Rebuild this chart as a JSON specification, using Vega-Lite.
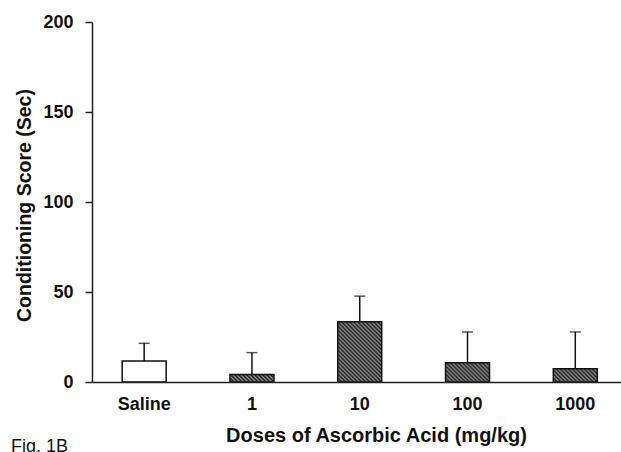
{
  "$schema": "https://vega.github.io/schema/vega-lite/v6.json",
  "width": 529,
  "height": 360,
  "autosize": {"type": "none"},
  "padding": {"left": 92, "top": 22, "right": 0, "bottom": 70},
  "background": "white",
  "title": {"text": "Fig. 1B", "orient": "bottom", "anchor": "start", "frame": "bounds", "font": "Liberation Sans", "fontSize": 18, "fontWeight": "normal", "color": "#111", "offset": -7, "dx": -4},
  "config": {"view": {"stroke": null}},
  "data": {"values": [
    {"dose": "Saline", "mean": 11.7, "upper": 21.5},
    {"dose": "1", "mean": 4.1, "upper": 16.3},
    {"dose": "10", "mean": 33.5, "upper": 47.7},
    {"dose": "100", "mean": 10.7, "upper": 27.8},
    {"dose": "1000", "mean": 7.4, "upper": 27.8}
  ]},
  "encoding": {
    "x": {"field": "dose", "type": "nominal", "sort": null,
      "scale": {"paddingInner": 0.592, "paddingOuter": 0.25, "align": 0.56},
      "axis": {"title": "Doses of Ascorbic Acid (mg/kg)", "zindex": 1, "labelAngle": 0, "ticks": false, "tickSize": 0, "domainColor": "#222", "domainWidth": 1.5,
        "labelFont": "Liberation Sans", "labelFontSize": 18, "labelFontWeight": "bold", "labelColor": "#111", "labelPadding": 13,
        "titleFont": "Liberation Sans", "titleFontSize": 20, "titleFontWeight": "bold", "titleColor": "#111", "titlePadding": 12, "titleX": 284}
    }
  },
  "layer": [
    {
      "mark": {"type": "bar", "stroke": "#111", "strokeWidth": 1.5},
      "encoding": {
        "y": {"field": "mean", "type": "quantitative",
          "scale": {"domain": [0, 200]},
          "axis": {"title": "Conditioning Score (Sec)", "values": [0, 50, 100, 150, 200], "grid": false, "tickSize": 7, "tickWidth": 1.5, "tickColor": "#222", "domainColor": "#222", "domainWidth": 1.5,
            "labelFont": "Liberation Sans", "labelFontSize": 18, "labelFontWeight": "bold", "labelColor": "#111", "labelPadding": 12,
            "titleFont": "Liberation Sans", "titleFontSize": 19.5, "titleFontWeight": "bold", "titleColor": "#111", "titlePadding": 8, "titleY": 183}
        },
        "fill": {
          "condition": [
            {"test": "datum.dose === '1'", "value": {"gradient": "linear", "x1": 0, "y1": 1, "x2": 2.3, "y2": 0.614, "stops": [
{"offset":0,"color":"#1e1e1e"},{"offset":0.0192,"color":"#8c8c8c"},{"offset":0.0385,"color":"#1e1e1e"},{"offset":0.0577,"color":"#8c8c8c"},{"offset":0.0769,"color":"#1e1e1e"},{"offset":0.0962,"color":"#8c8c8c"},{"offset":0.1154,"color":"#1e1e1e"},{"offset":0.1346,"color":"#8c8c8c"},{"offset":0.1538,"color":"#1e1e1e"},{"offset":0.1731,"color":"#8c8c8c"},{"offset":0.1923,"color":"#1e1e1e"},{"offset":0.2115,"color":"#8c8c8c"},{"offset":0.2308,"color":"#1e1e1e"},{"offset":0.25,"color":"#8c8c8c"},{"offset":0.2692,"color":"#1e1e1e"},{"offset":0.2885,"color":"#8c8c8c"},{"offset":0.3077,"color":"#1e1e1e"},{"offset":0.3269,"color":"#8c8c8c"},{"offset":0.3462,"color":"#1e1e1e"},{"offset":0.3654,"color":"#8c8c8c"},{"offset":0.3846,"color":"#1e1e1e"},{"offset":0.4038,"color":"#8c8c8c"},{"offset":0.4231,"color":"#1e1e1e"},{"offset":0.4423,"color":"#8c8c8c"},{"offset":0.4615,"color":"#1e1e1e"},{"offset":0.4808,"color":"#8c8c8c"},{"offset":0.5,"color":"#1e1e1e"},{"offset":0.5192,"color":"#8c8c8c"},{"offset":0.5385,"color":"#1e1e1e"}
            ]}},
            {"test": "datum.dose === '10'", "value": {"gradient": "linear", "x1": 0, "y1": 1, "x2": 0.821, "y2": -0.126, "stops": [
{"offset":0,"color":"#1e1e1e"},{"offset":0.0192,"color":"#8c8c8c"},{"offset":0.0385,"color":"#1e1e1e"},{"offset":0.0577,"color":"#8c8c8c"},{"offset":0.0769,"color":"#1e1e1e"},{"offset":0.0962,"color":"#8c8c8c"},{"offset":0.1154,"color":"#1e1e1e"},{"offset":0.1346,"color":"#8c8c8c"},{"offset":0.1538,"color":"#1e1e1e"},{"offset":0.1731,"color":"#8c8c8c"},{"offset":0.1923,"color":"#1e1e1e"},{"offset":0.2115,"color":"#8c8c8c"},{"offset":0.2308,"color":"#1e1e1e"},{"offset":0.25,"color":"#8c8c8c"},{"offset":0.2692,"color":"#1e1e1e"},{"offset":0.2885,"color":"#8c8c8c"},{"offset":0.3077,"color":"#1e1e1e"},{"offset":0.3269,"color":"#8c8c8c"},{"offset":0.3462,"color":"#1e1e1e"},{"offset":0.3654,"color":"#8c8c8c"},{"offset":0.3846,"color":"#1e1e1e"},{"offset":0.4038,"color":"#8c8c8c"},{"offset":0.4231,"color":"#1e1e1e"},{"offset":0.4423,"color":"#8c8c8c"},{"offset":0.4615,"color":"#1e1e1e"},{"offset":0.4808,"color":"#8c8c8c"},{"offset":0.5,"color":"#1e1e1e"},{"offset":0.5192,"color":"#8c8c8c"},{"offset":0.5385,"color":"#1e1e1e"},{"offset":0.5577,"color":"#8c8c8c"},{"offset":0.5769,"color":"#1e1e1e"},{"offset":0.5962,"color":"#8c8c8c"},{"offset":0.6154,"color":"#1e1e1e"},{"offset":0.6346,"color":"#8c8c8c"},{"offset":0.6538,"color":"#1e1e1e"},{"offset":0.6731,"color":"#8c8c8c"},{"offset":0.6923,"color":"#1e1e1e"},{"offset":0.7115,"color":"#8c8c8c"},{"offset":0.7308,"color":"#1e1e1e"},{"offset":0.75,"color":"#8c8c8c"},{"offset":0.7692,"color":"#1e1e1e"},{"offset":0.7885,"color":"#8c8c8c"},{"offset":0.8077,"color":"#1e1e1e"},{"offset":0.8269,"color":"#8c8c8c"},{"offset":0.8462,"color":"#1e1e1e"},{"offset":0.8654,"color":"#8c8c8c"},{"offset":0.8846,"color":"#1e1e1e"},{"offset":0.9038,"color":"#8c8c8c"},{"offset":0.9231,"color":"#1e1e1e"},{"offset":0.9423,"color":"#8c8c8c"},{"offset":0.9615,"color":"#1e1e1e"},{"offset":0.9808,"color":"#8c8c8c"},{"offset":1,"color":"#1e1e1e"}
            ]}},
            {"test": "datum.dose === '100'", "value": {"gradient": "linear", "x1": 0, "y1": 1, "x2": 1.9845, "y2": 0.1308, "stops": [
{"offset":0,"color":"#1e1e1e"},{"offset":0.0192,"color":"#8c8c8c"},{"offset":0.0385,"color":"#1e1e1e"},{"offset":0.0577,"color":"#8c8c8c"},{"offset":0.0769,"color":"#1e1e1e"},{"offset":0.0962,"color":"#8c8c8c"},{"offset":0.1154,"color":"#1e1e1e"},{"offset":0.1346,"color":"#8c8c8c"},{"offset":0.1538,"color":"#1e1e1e"},{"offset":0.1731,"color":"#8c8c8c"},{"offset":0.1923,"color":"#1e1e1e"},{"offset":0.2115,"color":"#8c8c8c"},{"offset":0.2308,"color":"#1e1e1e"},{"offset":0.25,"color":"#8c8c8c"},{"offset":0.2692,"color":"#1e1e1e"},{"offset":0.2885,"color":"#8c8c8c"},{"offset":0.3077,"color":"#1e1e1e"},{"offset":0.3269,"color":"#8c8c8c"},{"offset":0.3462,"color":"#1e1e1e"},{"offset":0.3654,"color":"#8c8c8c"},{"offset":0.3846,"color":"#1e1e1e"},{"offset":0.4038,"color":"#8c8c8c"},{"offset":0.4231,"color":"#1e1e1e"},{"offset":0.4423,"color":"#8c8c8c"},{"offset":0.4615,"color":"#1e1e1e"},{"offset":0.4808,"color":"#8c8c8c"},{"offset":0.5,"color":"#1e1e1e"},{"offset":0.5192,"color":"#8c8c8c"},{"offset":0.5385,"color":"#1e1e1e"},{"offset":0.5577,"color":"#8c8c8c"},{"offset":0.5769,"color":"#1e1e1e"},{"offset":0.5962,"color":"#8c8c8c"},{"offset":0.6154,"color":"#1e1e1e"},{"offset":0.6346,"color":"#8c8c8c"}
            ]}},
            {"test": "datum.dose === '1000'", "value": {"gradient": "linear", "x1": 0, "y1": 1, "x2": 2.1665, "y2": 0.3437, "stops": [
{"offset":0,"color":"#1e1e1e"},{"offset":0.0192,"color":"#8c8c8c"},{"offset":0.0385,"color":"#1e1e1e"},{"offset":0.0577,"color":"#8c8c8c"},{"offset":0.0769,"color":"#1e1e1e"},{"offset":0.0962,"color":"#8c8c8c"},{"offset":0.1154,"color":"#1e1e1e"},{"offset":0.1346,"color":"#8c8c8c"},{"offset":0.1538,"color":"#1e1e1e"},{"offset":0.1731,"color":"#8c8c8c"},{"offset":0.1923,"color":"#1e1e1e"},{"offset":0.2115,"color":"#8c8c8c"},{"offset":0.2308,"color":"#1e1e1e"},{"offset":0.25,"color":"#8c8c8c"},{"offset":0.2692,"color":"#1e1e1e"},{"offset":0.2885,"color":"#8c8c8c"},{"offset":0.3077,"color":"#1e1e1e"},{"offset":0.3269,"color":"#8c8c8c"},{"offset":0.3462,"color":"#1e1e1e"},{"offset":0.3654,"color":"#8c8c8c"},{"offset":0.3846,"color":"#1e1e1e"},{"offset":0.4038,"color":"#8c8c8c"},{"offset":0.4231,"color":"#1e1e1e"},{"offset":0.4423,"color":"#8c8c8c"},{"offset":0.4615,"color":"#1e1e1e"},{"offset":0.4808,"color":"#8c8c8c"},{"offset":0.5,"color":"#1e1e1e"},{"offset":0.5192,"color":"#8c8c8c"},{"offset":0.5385,"color":"#1e1e1e"},{"offset":0.5577,"color":"#8c8c8c"},{"offset":0.5769,"color":"#1e1e1e"},{"offset":0.5962,"color":"#8c8c8c"}
            ]}}
          ],
          "value": "white"
        }
      }
    },
    {
      "mark": {"type": "rule", "color": "#111", "strokeWidth": 1.5},
      "encoding": {
        "y": {"field": "mean", "type": "quantitative"},
        "y2": {"field": "upper"}
      }
    },
    {
      "mark": {"type": "tick", "color": "#111", "thickness": 1.5, "size": 11},
      "encoding": {
        "y": {"field": "upper", "type": "quantitative"}
      }
    }
  ]
}
